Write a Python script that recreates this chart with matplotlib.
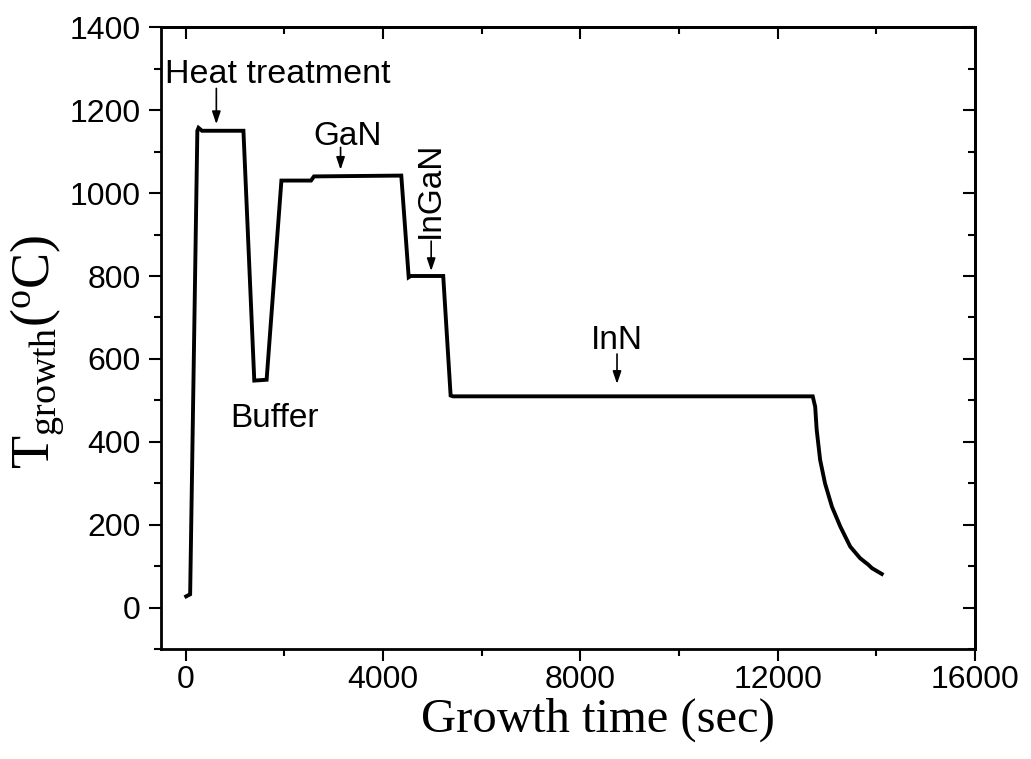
import matplotlib
matplotlib.use("Agg")
import matplotlib.pyplot as plt
from matplotlib.ticker import MultipleLocator

plt.rcParams['font.family'] = 'Liberation Sans'
plt.rcParams['mathtext.fontset'] = 'custom'
plt.rcParams['mathtext.rm'] = 'Liberation Serif'
plt.rcParams['mathtext.it'] = 'Liberation Serif:italic'

# growth temperature profile
time_s = [10, 90, 236, 260, 330, 1170, 1390, 1640, 1940, 2540, 2600, 4370,
          4520, 4560, 5220, 5370, 5420, 12710, 12760, 12790, 12860, 12960,
          13100, 13270, 13470, 13670, 13840, 13910, 14110]
temp_c = [28, 33, 1150, 1157, 1150, 1150, 548, 550, 1030, 1030, 1040, 1042,
          797, 800, 800, 512, 510, 510, 485, 430, 357, 300,
          244, 196, 148, 120, 104, 96, 82]

# annotation labels: text, text position, arrow tail, arrow tip
stage_labels = ["Heat treatment", "GaN", "InGaN", "Buffer", "InN"]
label_xy = [(-420, 1265), (3290, 1116), (4962, 892), (1790, 436), (8743, 625)]
arrow_tail = [(621, 1252), (3139, 1110), (4976, 884), None, (8743, 612)]
arrow_tip = [(621, 1166), (3139, 1056), (4976, 812), None, (8743, 540)]

fig = plt.figure(figsize=(10.31, 7.59), dpi=100)
ax = fig.add_axes([0.1562, 0.1443, 0.7895, 0.8201])

ax.plot(time_s, temp_c, color='black', lw=2.8, solid_joinstyle='miter')

ax.set_xlim(-500, 16000)
ax.set_ylim(-100, 1400)
ax.xaxis.set_major_locator(MultipleLocator(4000))
ax.xaxis.set_minor_locator(MultipleLocator(2000))
ax.yaxis.set_major_locator(MultipleLocator(200))
ax.yaxis.set_minor_locator(MultipleLocator(100))
ax.tick_params(which='both', direction='out', width=1.5, labelsize=23)
ax.tick_params(which='major', length=8.5)
ax.tick_params(which='minor', length=4.7)
ax.tick_params(axis='x', pad=3)
ax.tick_params(axis='y', pad=6)
for sp in ax.spines.values():
    sp.set_linewidth(2)

# top / right: ticks point inward, no labels
top = ax.secondary_xaxis('top')
top.xaxis.set_major_locator(MultipleLocator(4000))
top.xaxis.set_minor_locator(MultipleLocator(2000))
top.tick_params(which='both', direction='in', width=1.5, labeltop=False)
top.tick_params(which='major', length=8.5)
top.tick_params(which='minor', length=4.7)
right = ax.secondary_yaxis('right')
right.yaxis.set_major_locator(MultipleLocator(200))
right.yaxis.set_minor_locator(MultipleLocator(100))
right.tick_params(which='both', direction='in', width=1.5, labelright=False)
right.tick_params(which='major', length=8.5)
right.tick_params(which='minor', length=4.7)
for s in (top, right):
    for sp in s.spines.values():
        sp.set_linewidth(2)

ax.set_xlabel("Growth time (sec)", family='Liberation Serif', fontsize=35)
ax.xaxis.set_label_coords(0.537, -0.078)
ax.set_ylabel(r'$\mathrm{T_{growth}(^{o}C)}$', fontsize=39)
ax.yaxis.set_label_coords(-0.116, 0.478)

for i, name in enumerate(stage_labels):
    x, y = label_xy[i]
    if name == "Heat treatment":
        ax.text(x, y, name, fontsize=24.5, ha='left', va='baseline')
    elif name == "InGaN":
        ax.text(x, y, name, fontsize=24, ha='center', va='bottom', rotation=90)
    else:
        ax.text(x, y, name, fontsize=24, ha='center', va='baseline')
    if arrow_tail[i] is not None:
        ax.annotate('', xy=arrow_tip[i], xytext=arrow_tail[i],
                    arrowprops=dict(arrowstyle='-|>,head_length=0.5,head_width=0.17',
                                    color='black', lw=1.2, mutation_scale=15,
                                    shrinkA=0, shrinkB=0))

fig.savefig("out.png", dpi=100)
